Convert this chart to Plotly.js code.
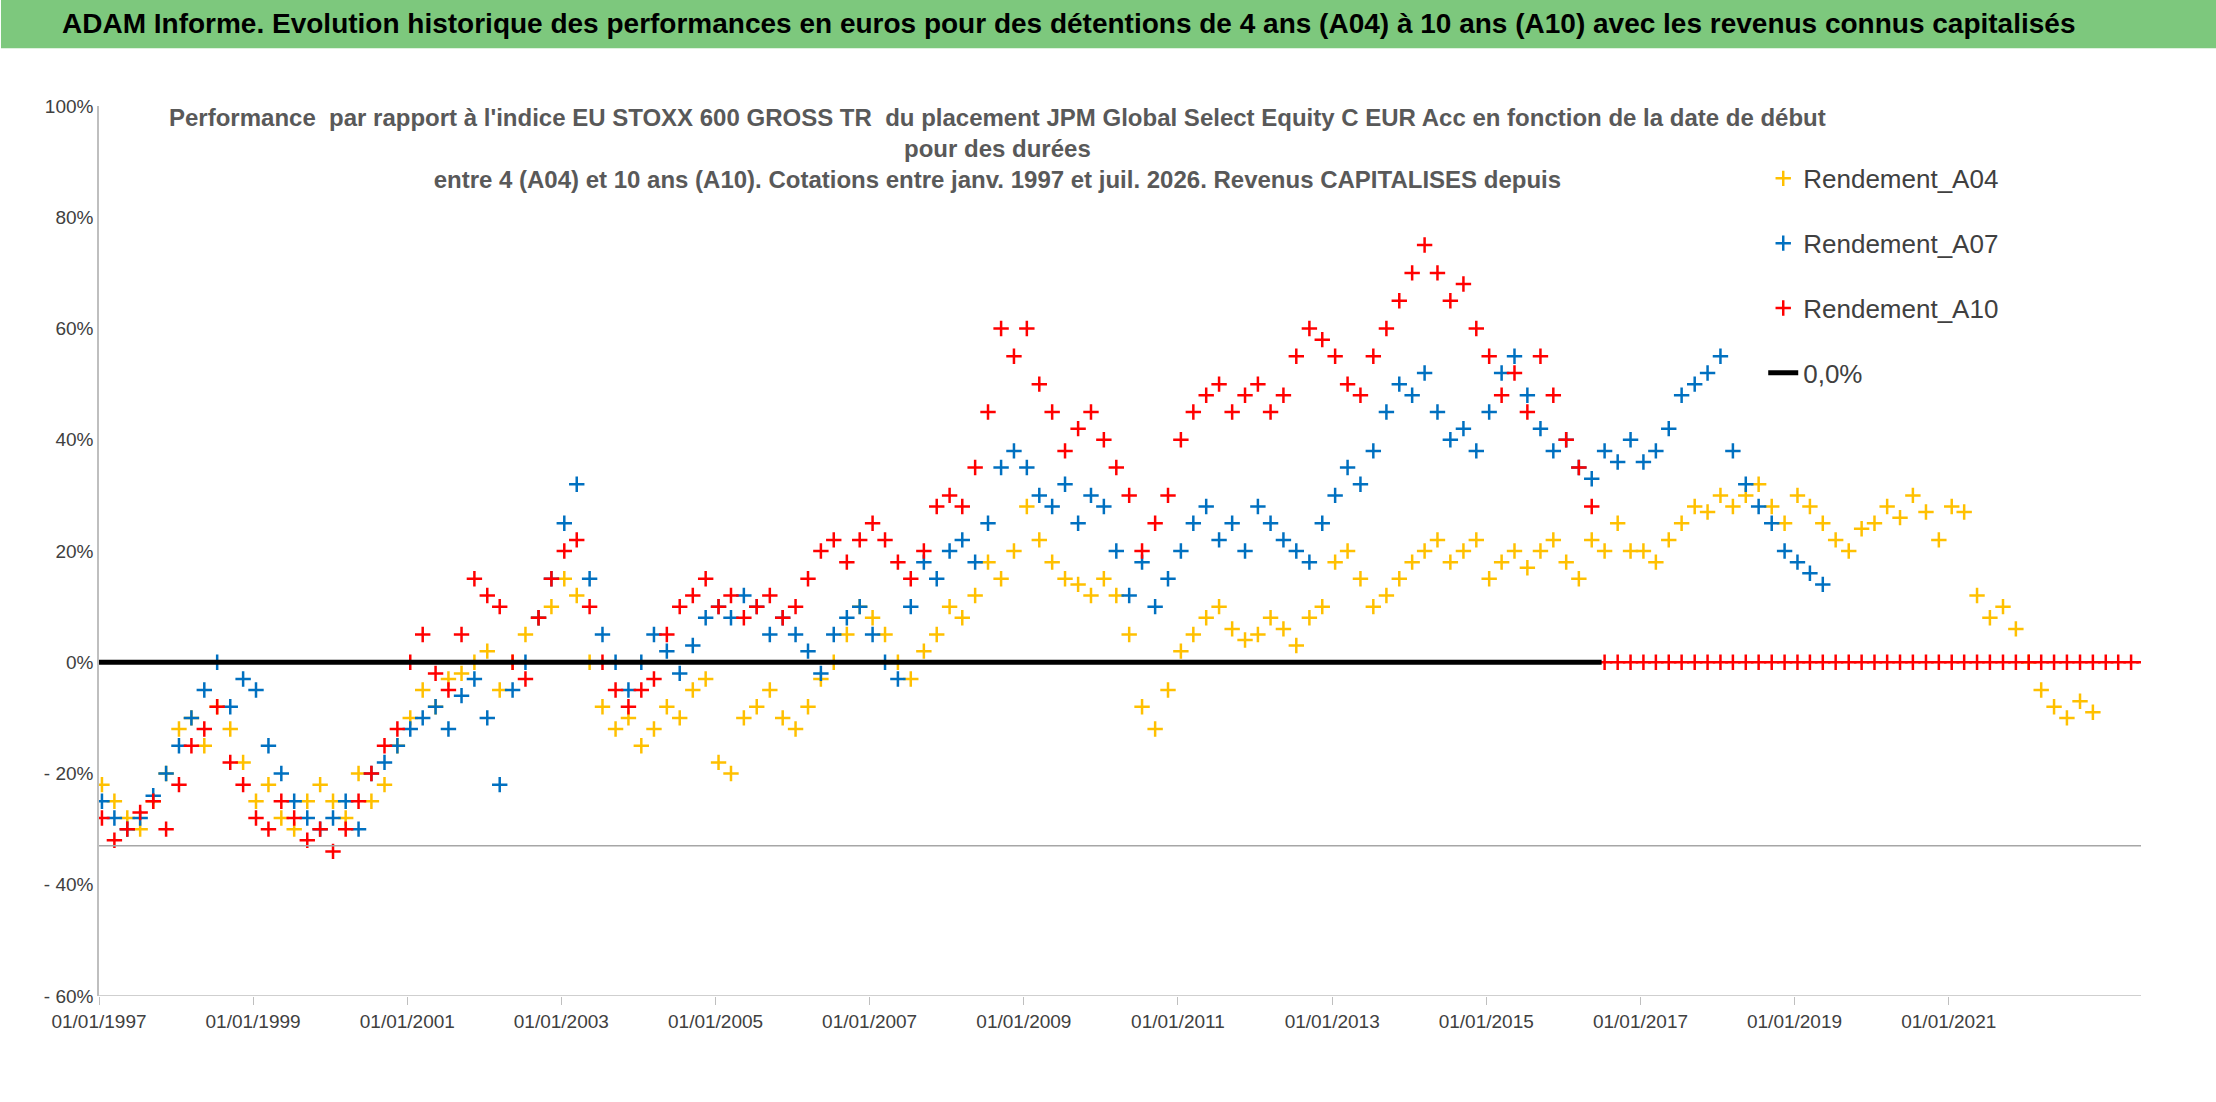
<!DOCTYPE html>
<html>
<head>
<meta charset="utf-8">
<script src="https://cdn.plot.ly/plotly-3.0.1.min.js"></script>
<style>
  body { margin: 0; background: #fff; }
  #chart { width: 2216px; height: 1102px; }
</style>
</head>
<body>
<div id="chart"></div>
<script>
// bimonthly readings, starting Jan 1997
var rendA04 = [
  -22,-25,-28,-30,-25,-20,  -12,-10,-15,-8,-12,-18,  -25,-22,-28,-30,-25,-22,
  -25,-28,-20,-25,-22,-15,  -10,-5,-8,-3,-2,0,       2,-5,0,5,8,10,
  15,12,0,-8,-12,-10,       -15,-12,-8,-10,-5,-3,    -18,-20,-10,-8,-5,-10,
  -12,-8,-3,0,5,10,         8,5,0,-3,2,5,            10,8,12,18,15,20,
  28,22,18,15,14,12,        15,12,5,-8,-12,-5,       2,5,8,10,6,4,
  5,8,6,3,8,10,             18,20,15,10,12,15,       18,20,22,18,20,22,
  15,18,20,17,20,22,        18,15,22,20,25,20,       20,18,22,25,28,27,
  30,28,30,32,28,25,        30,28,25,22,20,24,       25,28,26,30,27,22,
  28,27,12,8,10,6,          0,-5,-8,-10,-7,-9
];
var rendA07 = [
  -25,-28,-30,-28,-24,-20,  -15,-10,-5,0,-8,-3,      -5,-15,-20,-25,-28,-30,
  -28,-25,-30,-20,-18,-15,  -12,-10,-8,-12,-6,-3,    -10,-22,-5,0,8,15,
  25,32,15,5,0,-5,          0,5,2,-2,3,8,            10,8,12,10,5,8,
  5,2,-2,5,8,10,            5,0,-3,10,18,15,         20,22,18,25,35,38,
  35,30,28,32,25,30,        28,20,12,18,10,15,       20,25,28,22,25,20,
  28,25,22,20,18,25,        30,35,32,38,45,50,       48,52,45,40,42,38,
  45,52,55,48,42,38,        40,35,33,38,36,40,       36,38,42,48,50,52,
  55,38,32,28,25,20,        18,16,14
];
var rendA10 = [
  -28,-32,-30,-27,-25,-30,  -22,-15,-12,-8,-18,-22,  -28,-30,-25,-28,-32,-30,
  -34,-30,-25,-20,-15,-12,  0,5,-2,-5,5,15,          12,10,0,-3,8,15,
  20,22,10,0,-5,-8,         -5,-3,5,10,12,15,        10,12,8,10,12,8,
  10,15,20,22,18,22,        25,22,18,15,20,28,       30,28,35,45,60,55,
  60,50,45,38,42,45,        40,35,30,20,25,30,       40,45,48,50,45,48,
  50,45,48,55,60,58,        55,50,48,55,60,65,       70,75,70,65,68,60,
  55,48,52,45,55,48,        40,35,28,
  0,0,0, 0,0,0,0,0,0, 0,0,0,0,0,0, 0,0,0,0,0,0, 0,0,0,0,0,0,
  0,0,0,0,0,0, 0,0,0,0,0,0, 0,0,0,0,0,0
];
var tickYears = [1997, 1999, 2001, 2003, 2005, 2007, 2009, 2011, 2013, 2015, 2017, 2019, 2021];
var yTickVals = [100, 80, 60, 40, 20, 0, -20, -40, -60];
var yTickText = ['100%', '80%', '60%', '40%', '20%', '0%', '- 20%', '- 40%', '- 60%'];

function bimonthlyDates(n) {
  var out = [];
  for (var i = 0; i < n; i++) {
    var y = 1997 + Math.floor(i / 6);
    var m = (i % 6) * 2 + 1;
    out.push(y + '-' + (m < 10 ? '0' + m : m) + '-15');
  }
  return out;
}

function series(name, vals, color) {
  return {
    x: bimonthlyDates(vals.length), y: vals, name: name, legendgroup: name,
    type: 'scatter', mode: 'markers',
    marker: { symbol: 'cross-thin', size: 11, color: color, line: { width: 2.5, color: color } }
  };
}

var data = [
  series('Rendement_A04', rendA04, '#ffc000'),
  series('Rendement_A07', rendA07, '#0070c0'),
  series('Rendement_A10', rendA10, '#ff0000'),
  {
    x: ['1997-01-01', '2016-07-01'], y: [0, 0], name: '0,0%', legendgroup: 'zero',
    type: 'scatter', mode: 'lines', line: { color: '#000', width: 5 }
  }
];

var layout = {
  width: 2216, height: 1102,
  margin: { l: 99, r: 75, t: 106, b: 106 },
  paper_bgcolor: '#fff', plot_bgcolor: '#fff',
  font: { family: 'Liberation Sans', color: '#404040' },
  showlegend: true,
  legend: {
    x: 0.815, y: 0.945, xanchor: 'left', yanchor: 'top',
    bgcolor: '#fff', font: { size: 26, color: '#404040' }, tracegroupgap: 28
  },
  xaxis: {
    type: 'date', range: ['1997-01-01', '2023-07-01'],
    tickvals: tickYears.map(function (y) { return y + '-01-01'; }),
    ticktext: tickYears.map(function (y) { return '01/01/' + y; }),
    showgrid: false, showline: false, zeroline: false,
    ticks: 'outside', ticklen: 8, tickcolor: '#bfbfbf',
    tickfont: { size: 19, color: '#404040' }
  },
  yaxis: {
    range: [-60, 100], tickvals: yTickVals, ticktext: yTickText,
    showgrid: false, zeroline: false, showline: true, linecolor: '#bfbfbf', linewidth: 1.5,
    tickfont: { size: 19, color: '#404040' }
  },
  shapes: [
    { type: 'rect', xref: 'paper', yref: 'paper', x0: -0.048, x1: 1.04, y0: 1.065, y1: 1.12,
      fillcolor: '#7dc87d', line: { width: 0 } },
    { type: 'line', xref: 'paper', yref: 'y', x0: 0, x1: 1, y0: -33, y1: -33,
      line: { color: '#a6a6a6', width: 1.5 } },
    { type: 'line', xref: 'paper', yref: 'y', x0: 0, x1: 1, y0: -60, y1: -60,
      line: { color: '#bfbfbf', width: 1.5 } }
  ],
  annotations: [
    { xref: 'paper', yref: 'paper', x: 0.475, y: 1.093, xanchor: 'center', yanchor: 'middle',
      showarrow: false,
      text: '<b>ADAM Informe. Evolution historique des performances en euros pour des détentions de 4 ans (A04) à 10 ans (A10) avec les revenus connus capitalisés</b>',
      font: { size: 28, color: '#000' } },
    { xref: 'paper', yref: 'paper', x: 0.44, y: 1.005, xanchor: 'center', yanchor: 'top',
      showarrow: false, align: 'center',
      text: "<b>Performance  par rapport à l'indice EU STOXX 600 GROSS TR  du placement JPM Global Select Equity C EUR Acc en fonction de la date de début<br>pour des durées<br>entre 4 (A04) et 10 ans (A10). Cotations entre janv. 1997 et juil. 2026. Revenus CAPITALISES depuis</b>",
      font: { size: 24, color: '#595959' } }
  ]
};

Plotly.newPlot('chart', data, layout, { displayModeBar: false });
</script>
</body>
</html>
